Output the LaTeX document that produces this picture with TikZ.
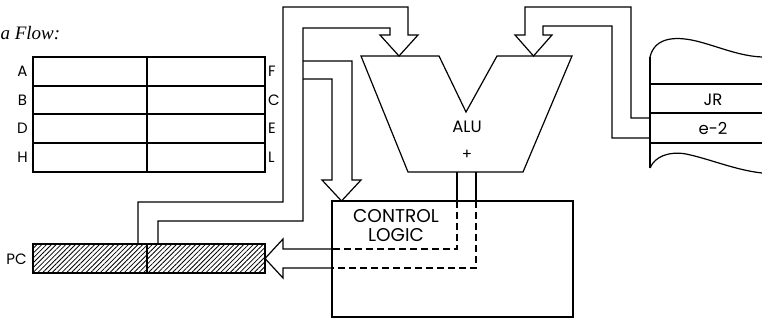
\documentclass[tikz,border=0pt]{standalone}
\usepackage{fontspec}
\setmainfont{Liberation Serif}
\newfontfamily\lblfont{Poppins}
\usetikzlibrary{patterns.meta}
\begin{document}
\begin{tikzpicture}[x=1pt,y=-1pt,line width=1.2pt,
  lbl/.style={font=\lblfont\fontsize{15}{16}\selectfont,inner sep=0pt},
  biglbl/.style={font=\lblfont\fontsize{18.5}{19}\selectfont,inner sep=0pt},
  midlbl/.style={font=\lblfont\fontsize{16.5}{17}\selectfont,inner sep=0pt},
  pipe/.style={line width=1.2pt,line join=miter},
  dashline/.style={line width=1.2pt,dash pattern=on 7pt off 4pt},
  hatch/.style={pattern={Lines[angle=45,distance=3.4pt,line width=0.8pt]}}]
\useasboundingbox (0,0) rectangle (762,320);

% title
\node[font=\itshape\fontsize{19}{20}\selectfont,anchor=base west,inner sep=0pt] (title) at (0,40) {a Flow:};

% register file
\draw (33,57) rectangle (265,172);
\foreach \y in {86,114,143} \draw (33,\y) -- (265,\y);
\draw (147,57) -- (147,172);
\node[lbl] (lA) at (22.5,71.5) {A};
\node[lbl] (lB) at (22.5,100) {B};
\node[lbl] (lD) at (22.5,128.5) {D};
\node[lbl] (lH) at (22.5,157.5) {H};
\node[lbl,anchor=west] (lF) at (267.5,71.5) {F};
\node[lbl,anchor=west] (lC) at (267.5,100) {C};
\node[lbl,anchor=west] (lE) at (267.5,128.5) {E};
\node[lbl,anchor=west] (lL) at (267.5,157.5) {L};

% PC
\path[hatch] (33,244) rectangle (265,273);
\draw (33,244) rectangle (265,273);
\draw (147,244) -- (147,273);
\node[lbl] (pc) at (16.5,259) {PC};

% left pipe from PC to ALU
\draw[pipe] (138,244) -- (138,202) -- (283,202) -- (283,7) -- (408,7) -- (408,35)
  -- (418,35) -- (399,56) -- (380,35) -- (390,35) -- (390,28) -- (303,28)
  -- (303,221) -- (158,221) -- (158,244);

% branch to control logic
\draw[pipe] (303,61) -- (352,61) -- (352,180) -- (361,180) -- (341.5,201)
  -- (322,180) -- (332,180) -- (332,79) -- (303,79);

% control logic
\draw (332,201) rectangle (573,317);
\node[biglbl] (ctl) at (396,216) {CONTROL};
\node[biglbl] (lgc) at (396,235) {LOGIC};

% ALU
\draw[line join=miter] (361,56) -- (439,56) -- (466,112) -- (497,56) -- (572,56)
  -- (523,172) -- (408,172) -- cycle;
\node[midlbl] (alu) at (467,127) {ALU};
\node[lbl] (plus) at (467,155) {+};

% ALU outputs
\draw (457,172) -- (457,201);
\draw (476,172) -- (476,201);
\draw[dashline] (457,201) -- (457,249) -- (332,249);
\draw[dashline] (476,201) -- (476,268) -- (332,268);

% arrow into PC
\draw[pipe] (332,249) -- (283,249) -- (283,239) -- (265,258.5) -- (283,278)
  -- (283,268) -- (332,268);

% right pipe from memory to ALU
\draw[pipe] (650,118) -- (631,118) -- (631,7) -- (525,7) -- (525,35) -- (515,35)
  -- (533.5,56) -- (552,35) -- (543,35) -- (543,26) -- (612,26) -- (612,138) -- (650,138);

% memory
\draw (650,57) -- (650,168);
\foreach \y in {84,113,143} \draw (650,\y) -- (762,\y);
\draw (650,57) .. controls (655,36) and (678,36) .. (700,42)
  .. controls (722,48) and (740,56) .. (762,57);
\draw (650,168) .. controls (655,156) and (670,151) .. (686,154)
  .. controls (710,159) and (735,170) .. (762,173);
\node[midlbl] (jr) at (713,100) {JR};
\node[midlbl] (e2) at (713,129) {e-2};
\end{tikzpicture}
\end{document}
